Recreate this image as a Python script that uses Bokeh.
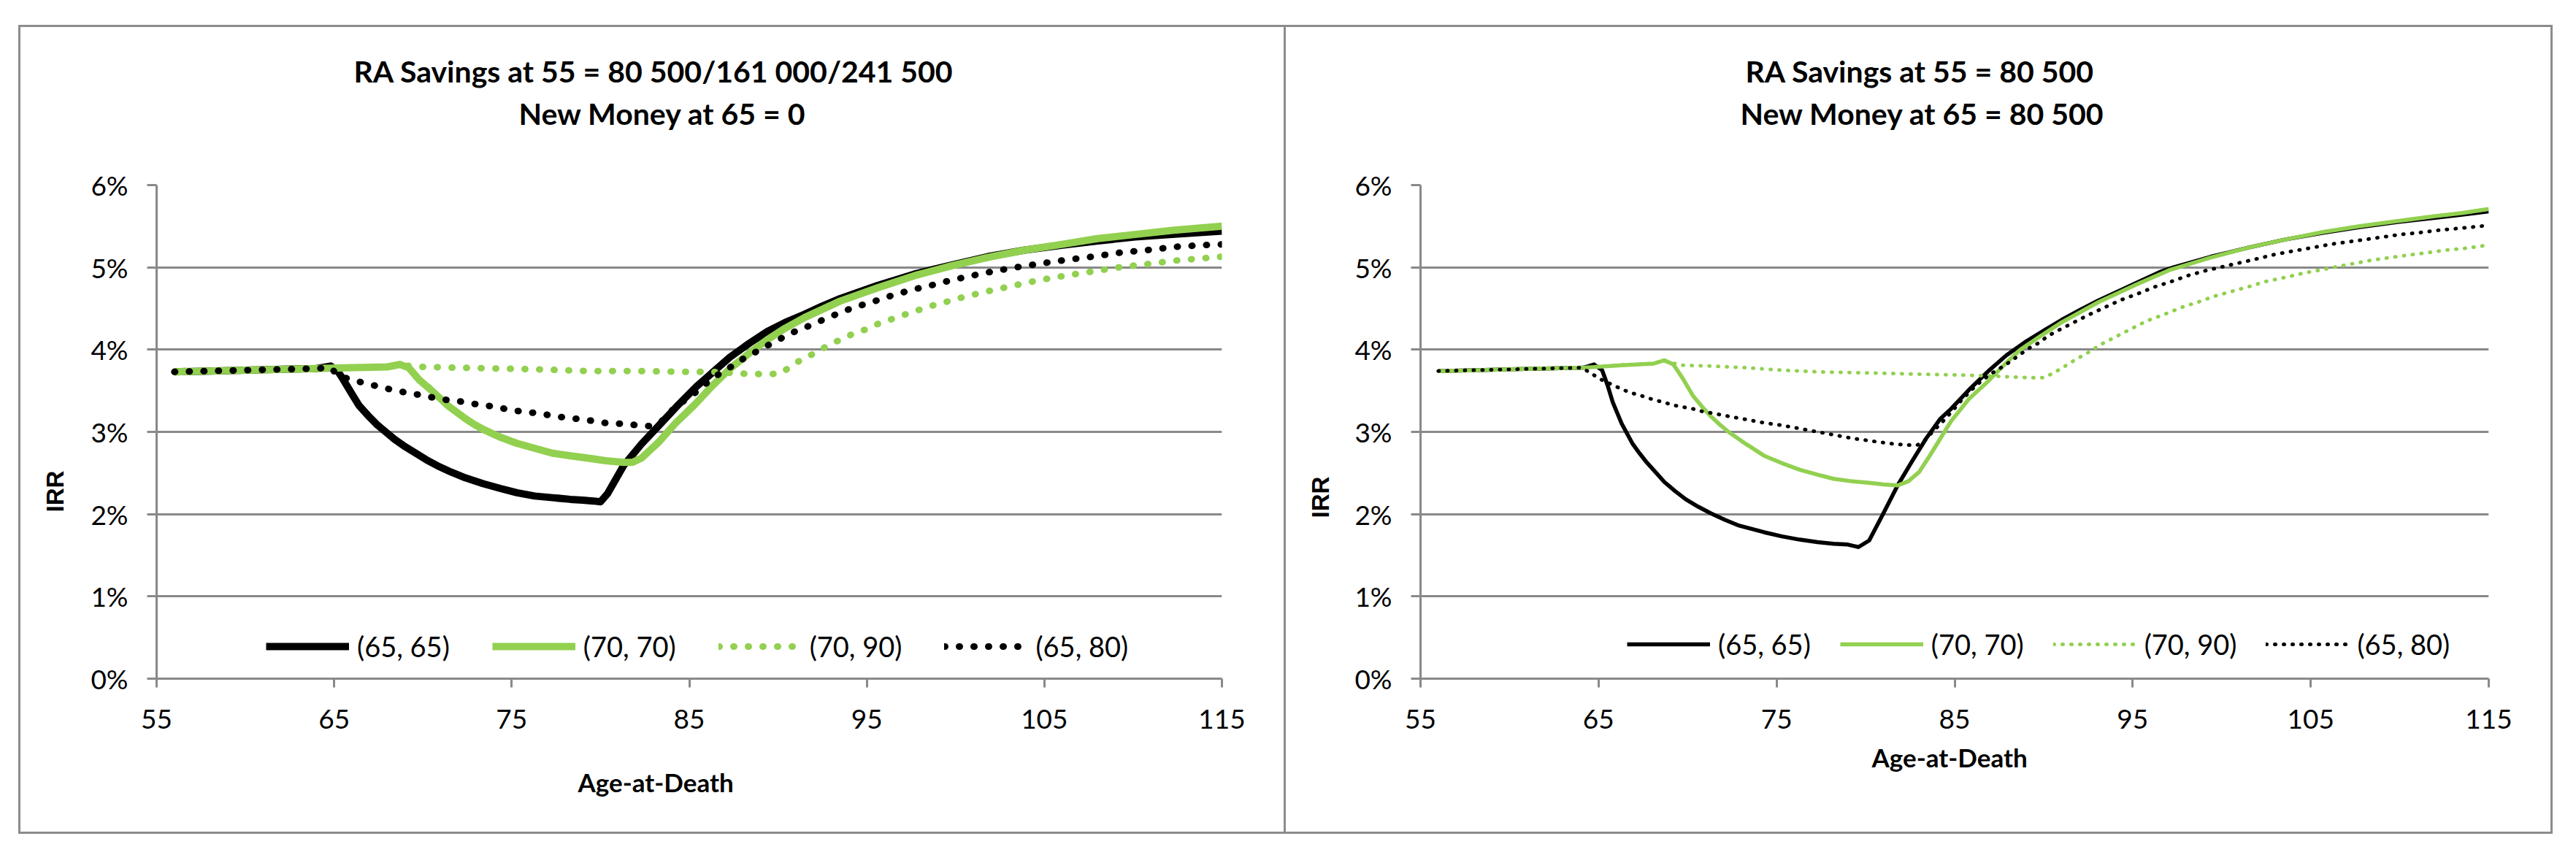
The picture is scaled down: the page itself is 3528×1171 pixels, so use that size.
from bokeh.plotting import figure
from bokeh.models import (Range1d, FixedTicker, Title, Legend, LegendItem, Spacer)
from bokeh.layouts import row, column
from bokeh.embed import file_html
from bokeh.resources import INLINE

# ---------------- data ----------------
XTICKS = [55, 65, 75, 85, 95, 105, 115]
YTICKS = [0, 1, 2, 3, 4, 5, 6]
YTICK_LABELS = ["0%", "1%", "2%", "3%", "4%", "5%", "6%"]
SERIES_NAMES = ["(65, 65)", "(70, 70)", "(70, 90)", "(65, 80)"]

TITLE_L = ["RA Savings at 55 = 80 500/161 000/241 500", "New Money at 65 = 0"]
TITLE_R = ["RA Savings at 55 = 80 500", "New Money at 65 = 80 500"]
X_TITLE = "Age-at-Death"
Y_TITLE = "IRR"

# Left panel
L_6565_AGE = [56, 58, 60, 62, 64, 64.8, 65.2, 65.5, 66.0, 66.4, 66.9, 67.4, 67.9, 68.4, 69.0, 69.6,
              70.2, 70.8, 71.6, 72.4, 73.4, 74.4, 75.3, 76.3, 77.3, 78.3, 79.0, 79.6, 80.0, 80.4,
              81.3, 82.3, 83.3, 84.3, 85.4, 86.3, 87.3, 88.4, 89.4, 90.4, 91.5, 92.5, 93.5, 95.6,
              97.7, 99.8, 101.8, 103.9, 106.0, 108.0, 110.1, 112.2, 115.0]
L_6565_IRR = [3.73, 3.74, 3.75, 3.76, 3.77, 3.80, 3.74, 3.64, 3.46, 3.32, 3.20, 3.09, 3.00, 2.91, 2.82, 2.74,
              2.66, 2.59, 2.51, 2.44, 2.37, 2.31, 2.26, 2.22, 2.20, 2.18, 2.17, 2.16, 2.15, 2.25,
              2.59, 2.85, 3.08, 3.31, 3.55, 3.72, 3.91, 4.08, 4.22, 4.33, 4.43, 4.53, 4.62, 4.78,
              4.92, 5.03, 5.13, 5.21, 5.27, 5.32, 5.37, 5.40, 5.44]

L_7070_AGE = [56, 60, 64, 66, 68, 68.7, 69.2, 69.8, 70.4, 70.9, 71.4, 71.9, 72.4, 72.9, 73.4, 74.3,
              75.3, 76.3, 77.3, 78.3, 79.3, 80.3, 81.3, 81.8, 82.3, 83.3, 84.2, 85.3, 86.3, 87.3,
              88.4, 89.4, 90.4, 91.5, 92.5, 93.5, 95.6, 97.7, 99.8, 101.8, 103.9, 106.0, 108.0,
              110.1, 112.2, 115.0]
L_7070_IRR = [3.73, 3.75, 3.77, 3.78, 3.79, 3.82, 3.78, 3.63, 3.52, 3.42, 3.32, 3.24, 3.16, 3.09, 3.03, 2.94,
              2.86, 2.80, 2.74, 2.71, 2.68, 2.65, 2.63, 2.63, 2.68, 2.88, 3.10, 3.33, 3.56, 3.77,
              3.96, 4.12, 4.26, 4.39, 4.49, 4.59, 4.75, 4.90, 5.02, 5.12, 5.21, 5.28, 5.35,
              5.40, 5.45, 5.50]

L_7090_AGE = [56, 60, 64, 66, 68, 68.7, 70.0, 72.0, 74.3, 76.5, 79.3, 82.0, 84.7, 86.3, 87.8, 89.4,
              90.15, 90.8, 91.4, 92.2, 92.8, 93.5, 94.2, 95.0, 95.7, 96.4, 97.2, 97.9, 98.6, 99.3,
              100.1, 101.6, 103.1, 104.6, 106.2, 107.7, 109.2, 110.8, 112.3, 113.9, 115.0]
L_7090_IRR = [3.73, 3.75, 3.77, 3.78, 3.79, 3.81, 3.79, 3.78, 3.77, 3.76, 3.74, 3.74, 3.73, 3.73, 3.71, 3.70,
              3.71, 3.81, 3.89, 3.97, 4.05, 4.12, 4.19, 4.25, 4.32, 4.37, 4.43, 4.48, 4.53, 4.57,
              4.62, 4.70, 4.77, 4.84, 4.90, 4.95, 5.00, 5.04, 5.08, 5.11, 5.13]

L_6580_AGE = [56, 58, 60, 62, 64, 64.8, 65.2, 66.0, 66.8, 67.5, 68.3, 69.0, 69.8, 70.5, 71.3, 72.1,
              72.9, 73.6, 74.4, 75.1, 75.9, 76.7, 77.4, 78.2, 79.0, 79.7, 80.5, 81.3, 82.1, 82.8,
              83.4, 84.2, 85.3, 85.9, 86.5, 87.2, 87.8, 88.5, 89.2, 89.9, 90.5, 91.3, 92.0, 92.7,
              93.4, 94.1, 94.85, 95.6, 96.3, 97.1, 97.8, 98.6, 99.3, 100.1, 101.6, 103.1, 104.6,
              106.2, 107.7, 109.3, 110.8, 112.4, 113.9, 115.0]
L_6580_IRR = [3.73, 3.74, 3.75, 3.76, 3.77, 3.78, 3.69, 3.63, 3.59, 3.55, 3.51, 3.48, 3.45, 3.42, 3.39, 3.37,
              3.34, 3.32, 3.29, 3.26, 3.24, 3.22, 3.19, 3.17, 3.15, 3.13, 3.10, 3.10, 3.08, 3.07,
              3.12, 3.30, 3.47, 3.58, 3.68, 3.77, 3.86, 3.94, 4.03, 4.10, 4.18, 4.25, 4.31, 4.38,
              4.44, 4.50, 4.55, 4.60, 4.65, 4.70, 4.74, 4.78, 4.82, 4.86, 4.93, 4.99, 5.04,
              5.09, 5.13, 5.18, 5.21, 5.25, 5.27, 5.28]

# Right panel
R_6565_AGE = [56, 58, 60, 62, 64.15, 64.75, 65.2, 65.5, 65.8, 66.3, 66.9, 67.3, 67.7, 68.2, 68.7, 69.3,
              69.9, 70.6, 71.3, 72.1, 72.9, 74.3, 75.3, 76.3, 77.3, 78.2, 79.0, 79.6, 80.2, 81.0,
              81.8, 82.6, 83.4, 84.2, 84.8, 85.8, 86.9, 87.9, 88.95, 90.0, 91.0, 92.1, 93.1, 94.1,
              95.2, 96.6, 97.3, 99.4, 101.5, 103.6, 105.7, 107.75, 109.8, 111.9, 113.5, 115.0]
R_6565_IRR = [3.74, 3.75, 3.76, 3.77, 3.78, 3.82, 3.75, 3.57, 3.36, 3.10, 2.86, 2.74, 2.63, 2.51, 2.39, 2.28,
              2.18, 2.09, 2.01, 1.93, 1.86, 1.78, 1.73, 1.69, 1.66, 1.64, 1.63, 1.60, 1.68, 2.01,
              2.35, 2.64, 2.92, 3.16, 3.28, 3.51, 3.74, 3.93, 4.09, 4.23, 4.36, 4.49, 4.60, 4.70,
              4.81, 4.95, 5.00, 5.13, 5.24, 5.34, 5.42, 5.49, 5.55, 5.60, 5.64, 5.68]

R_7070_AGE = [56, 60, 64.15, 66.3, 68.1, 68.7, 69.2, 69.7, 70.3, 70.8, 71.3, 71.8, 72.3, 73.3, 74.3, 75.3,
              76.3, 77.3, 78.2, 79.2, 80.2, 81.0, 81.8, 82.4, 83.0, 83.6, 84.2, 84.8, 85.8, 86.9,
              87.9, 88.7, 90.0, 91.0, 93.1, 95.2, 97.1, 99.4, 101.5, 103.6, 105.7, 107.75, 109.8,
              111.9, 113.5, 115.0]
R_7070_IRR = [3.74, 3.76, 3.78, 3.81, 3.83, 3.87, 3.82, 3.66, 3.44, 3.31, 3.19, 3.09, 3.00, 2.85, 2.71, 2.62,
              2.54, 2.48, 2.43, 2.40, 2.38, 2.36, 2.35, 2.40, 2.51, 2.71, 2.92, 3.13, 3.40, 3.62,
              3.84, 4.00, 4.19, 4.33, 4.58, 4.79, 4.97, 5.12, 5.24, 5.34, 5.43, 5.50, 5.56,
              5.62, 5.66, 5.71]

R_7090_AGE = [56, 60, 64, 66, 68, 68.7, 69.7, 71.3, 73.3, 75.3, 77.3, 79.4, 81.4, 83.4, 85.5, 87.0,
              88.0, 89.05, 90.0, 90.5, 90.9, 91.35, 91.8, 92.3, 92.7, 93.1, 94.0, 94.9, 95.8, 96.8,
              97.7, 98.7, 99.6, 100.6, 101.6, 102.5, 103.6, 104.6, 105.6, 106.5, 107.5, 108.5,
              109.5, 110.5, 111.6, 112.6, 113.6, 115.0]
R_7090_IRR = [3.74, 3.76, 3.78, 3.81, 3.83, 3.86, 3.81, 3.80, 3.78, 3.75, 3.73, 3.72, 3.71, 3.70, 3.69, 3.68,
              3.67, 3.66, 3.66, 3.71, 3.76, 3.82, 3.88, 3.94, 3.99, 4.05, 4.15, 4.25, 4.35, 4.43,
              4.51, 4.58, 4.65, 4.71, 4.77, 4.83, 4.88, 4.93, 4.97, 5.01, 5.05, 5.09,
              5.12, 5.15, 5.18, 5.21, 5.23, 5.27]

R_6580_AGE = [56, 60, 64, 64.55, 65.0, 65.9, 66.4, 66.9, 67.4, 67.8, 68.3, 68.8, 69.3, 69.8, 70.3, 70.8,
              71.3, 71.8, 72.3, 72.8, 73.3, 73.8, 74.3, 75.3, 76.3, 77.3, 78.3, 79.3, 80.3, 81.3,
              82.3, 82.9, 83.3, 83.8, 84.35, 84.9, 85.4, 85.9, 86.4, 87.0, 87.6, 88.1, 88.6, 89.2,
              89.8, 90.2, 90.7, 91.6, 92.5, 93.4, 94.3, 95.3, 96.2, 97.2, 98.1, 99.1, 100.1, 101.1,
              102.1, 103.05, 104.05, 105.1, 106.1, 107.1, 108.1, 109.1, 110.05, 111.05, 112.1,
              113.1, 114.1, 115.0]
R_6580_IRR = [3.74, 3.76, 3.78, 3.72, 3.65, 3.56, 3.51, 3.47, 3.44, 3.41, 3.38, 3.35, 3.32, 3.30, 3.28, 3.25,
              3.23, 3.21, 3.19, 3.17, 3.15, 3.13, 3.11, 3.08, 3.04, 3.00, 2.96, 2.92, 2.89, 2.86,
              2.84, 2.84, 2.89, 3.01, 3.13, 3.26, 3.39, 3.50, 3.60, 3.70, 3.78, 3.85, 3.93, 4.02,
              4.09, 4.16, 4.22, 4.32, 4.42, 4.51, 4.60, 4.68, 4.76, 4.83, 4.90, 4.96, 5.01, 5.06,
              5.11, 5.16, 5.20, 5.24, 5.28, 5.31, 5.34, 5.37, 5.40, 5.42, 5.45,
              5.47, 5.49, 5.51]

# ---------------- styles ----------------
BLACK = "#000000"
GREEN = "#92D050"
GRAY = "#898989"
FONT = "Lato"


def add_title(p, text, side, size, font, standoff, offset, align="left"):
    p.add_layout(Title(text=text, align=align, offset=offset, standoff=standoff,
                       text_font=font, text_font_style="bold", text_font_size=size,
                       text_color="black"), side)


def make_panel(width, height, mb_left, mb_right, mb_top, mb_bottom, series, widths,
               dots, titles, title_offsets, xtitle, ytitle, legend_loc, legend_spacing,
               box_shadow):
    p = figure(width=width, height=height, output_backend="svg", toolbar_location=None,
               x_range=Range1d(XTICKS[0], XTICKS[-1]), y_range=Range1d(YTICKS[0], YTICKS[-1]),
               min_border_left=mb_left, min_border_right=mb_right,
               min_border_top=mb_top, min_border_bottom=mb_bottom)
    p.border_fill_color = None
    p.background_fill_color = "white"
    p.outline_line_color = None
    p.styles = {"box-shadow": box_shadow}

    p.xgrid.grid_line_color = None
    p.ygrid.grid_line_color = GRAY
    p.ygrid.grid_line_width = 3

    p.xaxis.ticker = FixedTicker(ticks=XTICKS)
    p.yaxis.ticker = FixedTicker(ticks=YTICKS)
    p.yaxis.major_label_overrides = {t: l for t, l in zip(YTICKS, YTICK_LABELS)}
    for ax in (p.xaxis, p.yaxis):
        ax.axis_line_color = GRAY
        ax.axis_line_width = 3
        ax.major_tick_line_color = GRAY
        ax.major_tick_line_width = 3
        ax.major_tick_in = 0
        ax.minor_tick_line_color = None
        ax.major_label_text_font = FONT
        ax.major_label_text_font_size = "37px"
        ax.major_label_text_color = "black"
    p.xaxis.major_tick_out = 12
    p.yaxis.major_tick_out = 13
    p.xaxis.major_label_standoff = 30
    p.yaxis.major_label_standoff = 26

    items = []
    colors = [BLACK, GREEN, GREEN, BLACK]
    styles = ["solid", "solid", dots[0], dots[1]]
    for i, (ages, vals) in enumerate(series):
        kw = dict(line_color=colors[i], line_width=widths[i], line_join="round")
        if styles[i] != "solid":
            kw.update(line_dash=styles[i], line_cap="round")
        else:
            kw.update(line_cap="butt")
        r = p.line(ages, vals, **kw)
        items.append(LegendItem(label=SERIES_NAMES[i], renderers=[r]))

    leg = Legend(items=items, orientation="horizontal", location=legend_loc,
                 background_fill_alpha=0, border_line_color=None, padding=0, margin=0,
                 spacing=legend_spacing, label_standoff=11, glyph_width=114, glyph_height=40,
                 label_height=40, label_text_font=FONT, label_text_font_size="38px",
                 label_text_baseline="middle", label_text_color="black")
    p.add_layout(leg)

    # chart title: a blank spacer next to the frame, then line 2, then line 1
    add_title(p, " ", "above", "42px", FONT, 18, 0, align="center")
    add_title(p, titles[1], "above", "41px", FONT, 7, title_offsets[1])
    add_title(p, titles[0], "above", "41px", FONT, 8, title_offsets[0])
    add_title(p, X_TITLE, "below", "35px", FONT, xtitle[0], xtitle[1])
    add_title(p, Y_TITLE, "left", "33px", "Liberation Sans", ytitle[0], ytitle[1])
    return p


left = make_panel(
    1736, 1108, 189, 88, 219, 213,
    [(L_6565_AGE, L_6565_IRR), (L_7070_AGE, L_7070_IRR), (L_7090_AGE, L_7090_IRR),
     (L_6580_AGE, L_6580_IRR)],
    [10, 10, 9, 9], ["1 19", "1 19"],
    TITLE_L, (270, 496), (95, 577), (56, 228), (150, 21), 58,
    "inset 0 0 0 3px #8c8c8c")

right = make_panel(
    1735, 1108, 184, 88, 219, 213,
    [(R_6565_AGE, R_6565_IRR), (R_7070_AGE, R_7070_IRR), (R_7090_AGE, R_7090_IRR),
     (R_6580_AGE, R_6580_IRR)],
    [5.5, 5.5, 5, 5], ["1 11", "1 11"],
    TITLE_R, (445, 438), (27, 618), (52, 220), (283, 24), 40,
    "inset -3px 0 0 #8c8c8c, inset 0 3px 0 #8c8c8c, inset 0 -3px 0 #8c8c8c")

layout = column(Spacer(height=34), row(Spacer(width=25), left, right))

open("out.html", "w").write(file_html(layout, INLINE))
